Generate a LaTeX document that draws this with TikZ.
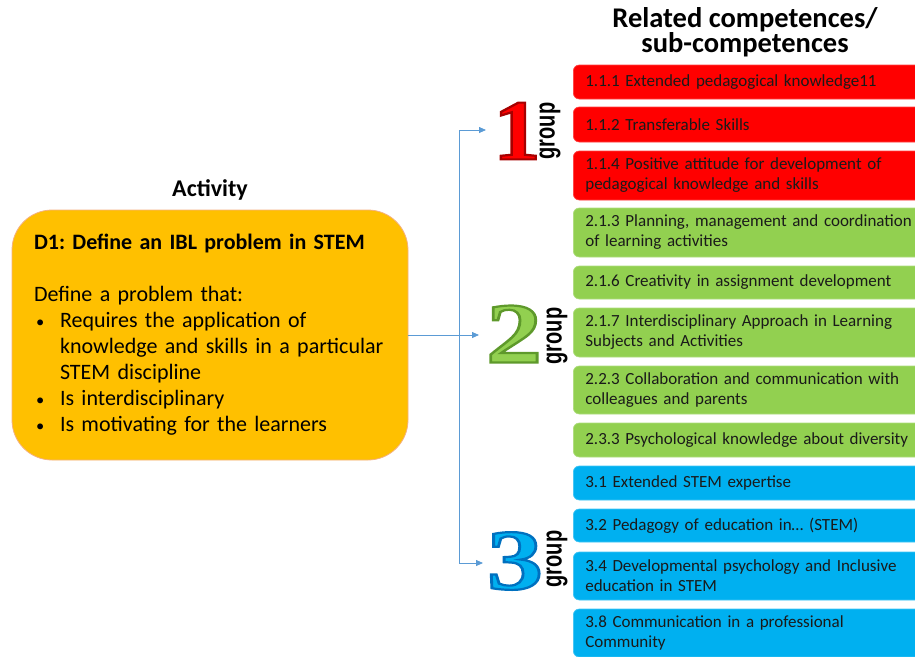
\documentclass[tikz,border=0pt]{standalone}
\usepackage{fontspec}
\setmainfont{Carlito}
\newfontfamily\digitfont{Liberation Serif}
\newfontfamily\grpfont{Liberation Sans}
\usetikzlibrary{arrows.meta}

\definecolor{actfill}{HTML}{FFC000}
\definecolor{actline}{HTML}{F4B183}
\definecolor{redbox}{HTML}{FF0000}
\definecolor{greenbox}{HTML}{92D050}
\definecolor{bluebox}{HTML}{00B0F0}
\definecolor{connblue}{HTML}{5B9BD5}
\definecolor{textdark}{HTML}{1A1A1A}

\tikzset{
  x=1pt, y=-1pt,
  comp/.style={rounded corners=6pt, draw=#1!75!white, fill=#1, line width=0.7pt,
    anchor=west, inner xsep=12pt, inner ysep=0pt, text width=338pt, align=left,
    font=\fontsize{17}{20}\selectfont, text=textdark},
  heading/.style={font=\bfseries\fontsize{24}{24}\selectfont, align=center},
  conn/.style={draw=connblue, line width=0.8pt, -{Triangle[length=7pt,width=6pt]}},
  grplabel/.style={rotate=90, font=\grpfont\bfseries\fontsize{20}{20}\selectfont},
  digit/.style={font=\digitfont\bfseries\fontsize{86}{86}\selectfont, inner sep=0pt},
}

% a digit filled in one colour and outlined in another (text render mode 2)
\newcommand\outlined[3]{\textcolor{#1}{%
  \special{pdf:literal direct 2 Tr 2.2 w #2 RG}#3\special{pdf:literal direct 0 Tr}}}
\newcommand\bulletline{\makebox[26pt][l]{\hspace{2pt}\scalebox{0.75}{\textbullet}}}
\newcommand\contline{\hspace*{26pt}}

\begin{document}
\frenchspacing
\begin{tikzpicture}
  \clip (0,0) rectangle (915,656);

  % headings
  \node[heading] (acthead) at (210,190) {Activity};
  \node[heading, font=\bfseries\fontsize{28.5}{24.5}\selectfont] (comphead) at (745,32)
    {Related competences/\\sub-competences};

  % activity box
  \node[rounded corners=40pt, draw=actline, fill=actfill, line width=0.8pt,
        minimum width=396pt, minimum height=250pt, inner xsep=22pt,
        text width=352pt, align=left, font=\fontsize{22}{26}\selectfont]
    (act) at (210,335)
    {\textbf{D1: Define an IBL problem in STEM}\\[26pt]
     Define a problem that:\\
     \bulletline Requires the application of\\
     \contline knowledge and skills in a particular\\
     \contline STEM discipline\\
     \bulletline Is interdisciplinary\\
     \bulletline Is motivating for the learners};

  % group 1 competences
  \node[comp=redbox, minimum height=34pt] (c111) at (573,82)
    {1.1.1 Extended pedagogical knowledge11};
  \node[comp=redbox, minimum height=35pt] (c112) at (573,124.5)
    {1.1.2 Transferable Skills};
  \node[comp=redbox, minimum height=49pt] (c114) at (573,175.5)
    {1.1.4 Positive attitude for development of\\pedagogical knowledge and skills};

  % group 2 competences
  \node[comp=greenbox, minimum height=49pt] (c213) at (573,232.5)
    {2.1.3 Planning, management and coordination\\of learning activities};
  \node[comp=greenbox, minimum height=33pt] (c216) at (573,282.5)
    {2.1.6 Creativity in assignment development};
  \node[comp=greenbox, minimum height=49pt] (c217) at (573,332.5)
    {2.1.7 Interdisciplinary Approach in Learning\\Subjects and Activities};
  \node[comp=greenbox, minimum height=48pt] (c223) at (573,390)
    {2.2.3 Collaboration and communication with\\colleagues and parents};
  \node[comp=greenbox, minimum height=34pt] (c233) at (573,440)
    {2.3.3 Psychological knowledge about diversity};

  % group 3 competences
  \node[comp=bluebox, minimum height=34pt] (c31) at (573,483)
    {3.1 Extended STEM expertise};
  \node[comp=bluebox, minimum height=33pt] (c32) at (573,525.5)
    {3.2 Pedagogy of education in\dots{} (STEM)};
  \node[comp=bluebox, minimum height=48pt] (c34) at (573,576)
    {3.4 Developmental psychology and Inclusive\\education in STEM};
  \node[comp=bluebox, minimum height=48pt] (c38) at (573,633)
    {3.8 Communication in a professional\\Community};

  % group markers
  \node[digit] (d1) at (517,131)
    {\scalebox{1.1}[1]{\outlined{redbox}{0.65 0 0}{1}}};
  \node[digit] (d2) at (514,334)
    {\scalebox{1.3}[1]{\outlined{greenbox}{0.37 0.6 0.17}{2}}};
  \node[digit] (d3) at (515,561)
    {\scalebox{1.3}[1]{\outlined{bluebox}{0 0.44 0.75}{3}}};
  \node[grplabel] (g1lab) at (550,131) {\scalebox{1}[1.4]{group}};
  \node[grplabel] (g2lab) at (557,336) {\scalebox{1}[1.4]{group}};
  \node[grplabel] (g3lab) at (557,559) {\scalebox{1}[1.4]{group}};

  % connectors
  \coordinate (t1) at (486,130);
  \coordinate (t2) at (479,335);
  \coordinate (t3) at (483,563);
  \coordinate (j) at (459,335);
  \draw[conn] (act.east) -- (t2);
  \draw[conn] (j) |- (t1);
  \draw[conn] (j) |- (t3);
\end{tikzpicture}
\end{document}
